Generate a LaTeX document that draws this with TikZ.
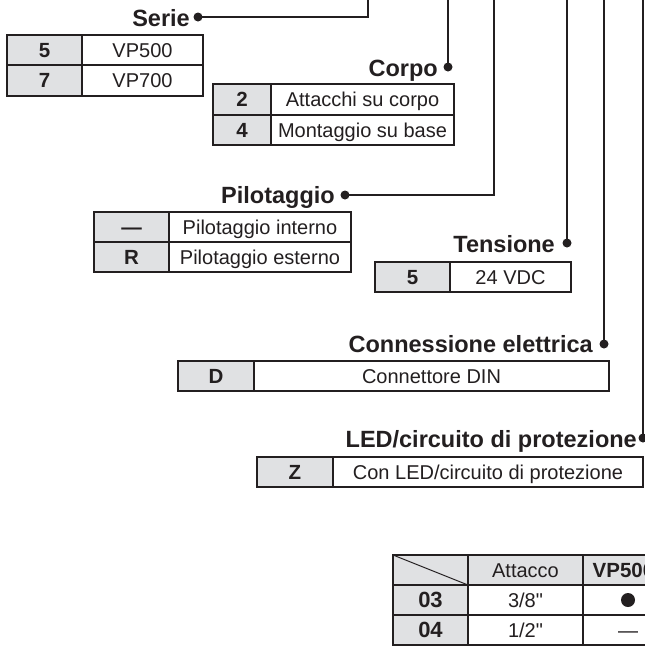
\documentclass[tikz,border=0pt]{standalone}
\usepackage{fontspec}
\setmainfont{Liberation Sans}[Ligatures=TeXOff]
\definecolor{ink}{RGB}{35,31,32}
\definecolor{cellgray}{RGB}{224,225,227}
\tikzset{
  conn/.style={draw=ink, line width=2.6pt},
  dotn/.style={circle, fill=ink, inner sep=0pt, minimum size=9pt},
  lbl/.style={anchor=base east, inner sep=0pt, text=ink, font=\fontsize{23.5}{28}\bfseries\selectfont},
  outerb/.style={draw=ink, line width=2.8pt},
  innerb/.style={draw=ink, line width=2pt},
  codet/.style={text=ink, font=\fontsize{20.5}{24}\bfseries\selectfont, inner sep=0pt, text height=14.5pt, text depth=0pt, anchor=center},
  desct/.style={text=ink, font=\fontsize{20}{24}\selectfont, inner sep=0pt, text height=14.5pt, text depth=0pt, anchor=center},
}
\begin{document}
\begin{tikzpicture}[x=1pt, y=-1pt]
\clip (0,0) rectangle (645,646);
\fill[white] (0,0) rectangle (645,646);

% ---------- connectors ----------
\coordinate (sTop) at (368,-3);
\coordinate (cTop) at (448,-3);
\coordinate (pTop) at (494,-3);
\coordinate (tTop) at (567,-3);
\coordinate (eTop) at (604,-3);
\coordinate (lTop) at (643,-3);

\node[dotn] (sDot) at (198,17) {};
\node[dotn] (cDot) at (448,67) {};
\node[dotn] (pDot) at (345,195) {};
\node[dotn] (tDot) at (567,243) {};
\node[dotn] (eDot) at (604,344) {};
\node[dotn] (lDot) at (643,438) {};

\draw[conn, line width=2.3pt] (sTop) |- (sDot.center);
\draw[conn] (cTop) -- (cDot.center);
\draw[conn, line width=2.4pt] (pTop) |- (pDot.center);
\draw[conn] (tTop) -- (tDot.center);
\draw[conn] (eTop) -- (eDot.center);
\draw[conn] (lTop) -- (lDot.center);

% ---------- labels ----------
\node[lbl] (sLbl) at (190,26.5) {Serie};
\node[lbl] (cLbl) at (438,76) {Corpo};
\node[lbl] (pLbl) at (335,203.5) {Pilotaggio};
\node[lbl] (tLbl) at (555,252) {Tensione};
\node[lbl] (eLbl) at (593,352.5) {Connessione elettrica};
\node[lbl] (lLbl) at (637,447.5) {LED/circuito di protezione};

% ---------- Serie table ----------
\fill[cellgray] (7,35) rectangle (82,96);
\draw[innerb] (82,35) -- (82,96) (7,65) -- (203,65);
\draw[outerb] (7,35) rectangle (203,96);
\node[codet] (s1c) at (44.5,50) {5};
\node[desct] (s1d) at (142.5,50) {VP500};
\node[codet] (s2c) at (44.5,80.5) {7};
\node[desct] (s2d) at (142.5,80.5) {VP700};

% ---------- Corpo table ----------
\fill[cellgray] (213,84) rectangle (271,145);
\draw[innerb] (271,84) -- (271,145) (213,115) -- (454,115);
\draw[outerb] (213,84) rectangle (454,145);
\node[codet] (c1c) at (242,99.5) {2};
\node[desct] (c1d) at (362.5,99.5) {Attacchi su corpo};
\node[codet] (c2c) at (242,130) {4};
\node[desct] (c2d) at (362.5,130) {Montaggio su base};

% ---------- Pilotaggio table ----------
\fill[cellgray] (94,212) rectangle (169,272);
\draw[innerb] (169,212) -- (169,272) (94,242) -- (351,242);
\draw[outerb] (94,212) rectangle (351,272);
\node[codet] (p1c) at (131.5,227) {—};
\node[desct] (p1d) at (260,227) {Pilotaggio interno};
\node[codet] (p2c) at (131.5,257) {R};
\node[desct] (p2d) at (260,257) {Pilotaggio esterno};

% ---------- Tensione table ----------
\fill[cellgray] (375,262) rectangle (450,292);
\draw[innerb] (450,262) -- (450,292);
\draw[outerb] (375,262) rectangle (571,292);
\node[codet] (t1c) at (412.5,277) {5};
\node[desct] (t1d) at (510.5,277) {24 VDC};

% ---------- Connessione table ----------
\fill[cellgray] (178,361) rectangle (254,391);
\draw[innerb] (254,361) -- (254,391);
\draw[outerb] (178,361) rectangle (609,391);
\node[codet] (e1c) at (216,376) {D};
\node[desct] (e1d) at (431.5,376) {Connettore DIN};

% ---------- LED table ----------
\fill[cellgray] (257,457) rectangle (333,487);
\draw[innerb] (333,457) -- (333,487);
\draw[outerb] (257,457) rectangle (643,487);
\node[codet] (l1c) at (295,472) {Z};
\node[desct] (l1d) at (488,472) {Con LED/circuito di protezione};

% ---------- Attacco table ----------
\fill[cellgray] (393,555) rectangle (468,645);
\fill[cellgray] (393,555) rectangle (700,585);
\draw[innerb] (468,555) -- (468,645) (583,555) -- (583,645)
               (393,585) -- (700,585) (393,615) -- (700,615);
\draw[ink, line width=1pt] (393,555) -- (468,585);
\draw[outerb] (393,555) rectangle (671,645);
\node[desct] (aH) at (525.5,570) {Attacco};
\node[text=ink, font=\fontsize{20.5}{24}\bfseries\selectfont, inner sep=0pt, anchor=base west] (vH) at (592.5,577.3) {VP500};
\node[codet, font=\fontsize{22}{26}\bfseries\selectfont, text height=15.5pt] (a1c) at (430.5,600) {03};
\node[desct] (a1d) at (525.5,600) {3/8"};
\node[circle, fill=ink, inner sep=0pt, minimum size=14pt] (a1v) at (628,600) {};
\node[codet, font=\fontsize{22}{26}\bfseries\selectfont, text height=15.5pt] (a2c) at (430.5,630) {04};
\node[desct] (a2d) at (525.5,630) {1/2"};
\node[desct] (a2v) at (628,630) {—};
\end{tikzpicture}
\end{document}
